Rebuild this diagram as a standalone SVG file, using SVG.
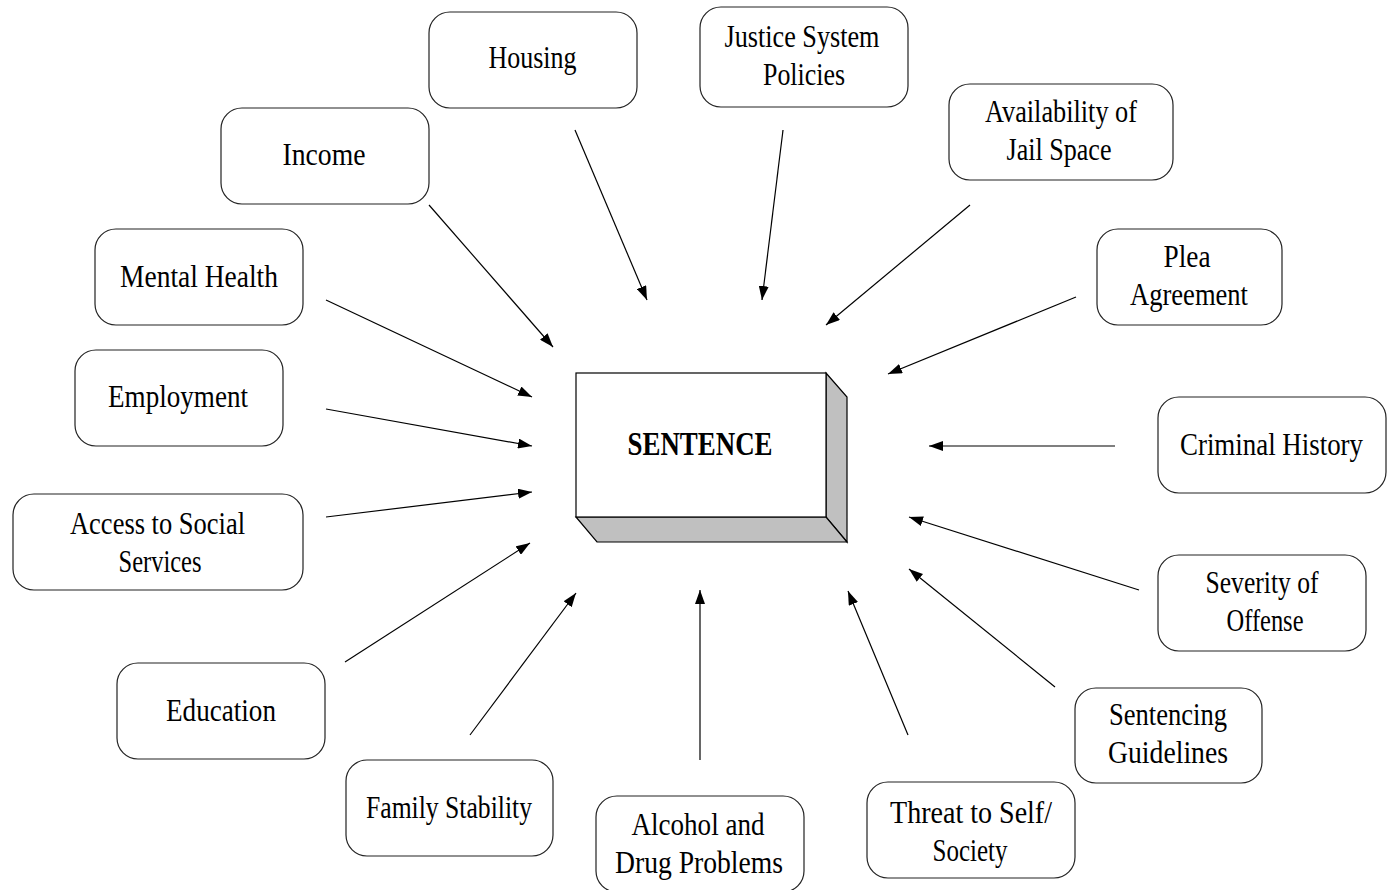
<svg xmlns="http://www.w3.org/2000/svg" width="1392" height="890" viewBox="0 0 1392 890">
<style>
.box{fill:#fff;stroke:#222;stroke-width:1.2}
.t{font-family:"Liberation Serif","Times New Roman",serif;font-size:32px;fill:#000;text-anchor:middle}
.b{font-weight:bold;font-size:33px}
.c{stroke:#000;stroke-width:1.2;fill:none;marker-end:url(#ah)}
</style>
<defs>
<marker id="ah" viewBox="0 0 14 10" refX="14" refY="5" markerWidth="14" markerHeight="10" markerUnits="userSpaceOnUse" orient="auto">
<path d="M0,0 L14,5 L0,10 Z" fill="#000"/>
</marker>
</defs>
<rect width="1392" height="890" fill="#fff"/>
<g id="connectors">
<line class="c" x1="575" y1="130" x2="647" y2="300"/>
<line class="c" x1="783" y1="130" x2="762" y2="300"/>
<line class="c" x1="970" y1="205" x2="826" y2="325"/>
<line class="c" x1="1076" y1="297" x2="888" y2="374"/>
<line class="c" x1="1115" y1="446" x2="929" y2="446"/>
<line class="c" x1="1139" y1="590" x2="909" y2="517"/>
<line class="c" x1="1055" y1="687" x2="909" y2="569"/>
<line class="c" x1="908" y1="735" x2="848" y2="591"/>
<line class="c" x1="700" y1="760" x2="700" y2="590"/>
<line class="c" x1="470" y1="735" x2="576" y2="593"/>
<line class="c" x1="345" y1="662" x2="530" y2="543"/>
<line class="c" x1="326" y1="517" x2="532" y2="492"/>
<line class="c" x1="326" y1="409" x2="532" y2="446"/>
<line class="c" x1="326" y1="300" x2="532" y2="397"/>
<line class="c" x1="429" y1="205" x2="553" y2="347"/>
</g>
<g id="sentence">
<polygon points="826,373 847,397 847,542 826,517" fill="#c0c0c0" stroke="#000" stroke-width="1.2"/>
<polygon points="576,517 826,517 847,542 597,542" fill="#c0c0c0" stroke="#000" stroke-width="1.2"/>
<rect x="576" y="373" width="250" height="144" fill="#fff" stroke="#000" stroke-width="1.2"/>
<text class="t b" x="700" y="455" textLength="145" lengthAdjust="spacingAndGlyphs">SENTENCE</text>
</g>
<g id="housing"><rect class="box" x="429" y="12" width="208" height="96" rx="21"/><text class="t" x="532.5" y="68" textLength="88" lengthAdjust="spacingAndGlyphs">Housing</text></g>
<g id="justice"><rect class="box" x="700" y="7" width="208" height="100" rx="21"/><text class="t" x="802" y="47" textLength="155" lengthAdjust="spacingAndGlyphs">Justice System</text><text class="t" x="804" y="85" textLength="82" lengthAdjust="spacingAndGlyphs">Policies</text></g>
<g id="availability"><rect class="box" x="949" y="84" width="224" height="96" rx="21"/><text class="t" x="1061" y="122" textLength="152" lengthAdjust="spacingAndGlyphs">Availability of</text><text class="t" x="1059" y="160" textLength="105" lengthAdjust="spacingAndGlyphs">Jail Space</text></g>
<g id="income"><rect class="box" x="221" y="108" width="208" height="96" rx="21"/><text class="t" x="324" y="165" textLength="83" lengthAdjust="spacingAndGlyphs">Income</text></g>
<g id="plea"><rect class="box" x="1097" y="229" width="185" height="96" rx="21"/><text class="t" x="1187" y="267" textLength="47" lengthAdjust="spacingAndGlyphs">Plea</text><text class="t" x="1189" y="305" textLength="118" lengthAdjust="spacingAndGlyphs">Agreement</text></g>
<g id="mental"><rect class="box" x="95" y="229" width="208" height="96" rx="21"/><text class="t" x="199" y="287" textLength="158" lengthAdjust="spacingAndGlyphs">Mental Health</text></g>
<g id="criminal"><rect class="box" x="1158" y="397" width="228" height="96" rx="21"/><text class="t" x="1271.5" y="455" textLength="183" lengthAdjust="spacingAndGlyphs">Criminal History</text></g>
<g id="employment"><rect class="box" x="75" y="350" width="208" height="96" rx="21"/><text class="t" x="178" y="407" textLength="140" lengthAdjust="spacingAndGlyphs">Employment</text></g>
<g id="access"><rect class="box" x="13" y="494" width="290" height="96" rx="21"/><text class="t" x="157.5" y="534" textLength="175" lengthAdjust="spacingAndGlyphs">Access to Social</text><text class="t" x="160" y="572" textLength="83" lengthAdjust="spacingAndGlyphs">Services</text></g>
<g id="severity"><rect class="box" x="1158" y="555" width="208" height="96" rx="21"/><text class="t" x="1262" y="593" textLength="113" lengthAdjust="spacingAndGlyphs">Severity of</text><text class="t" x="1265" y="631" textLength="77" lengthAdjust="spacingAndGlyphs">Offense</text></g>
<g id="guidelines"><rect class="box" x="1075" y="688" width="187" height="95" rx="21"/><text class="t" x="1168" y="725" textLength="118" lengthAdjust="spacingAndGlyphs">Sentencing</text><text class="t" x="1168" y="763" textLength="120" lengthAdjust="spacingAndGlyphs">Guidelines</text></g>
<g id="education"><rect class="box" x="117" y="663" width="208" height="96" rx="21"/><text class="t" x="221" y="721" textLength="110" lengthAdjust="spacingAndGlyphs">Education</text></g>
<g id="family"><rect class="box" x="346" y="760" width="207" height="96" rx="21"/><text class="t" x="449" y="818" textLength="166" lengthAdjust="spacingAndGlyphs">Family Stability</text></g>
<g id="alcohol"><rect class="box" x="596" y="796" width="208" height="96" rx="21"/><text class="t" x="698" y="835" textLength="133" lengthAdjust="spacingAndGlyphs">Alcohol and</text><text class="t" x="699" y="873" textLength="168" lengthAdjust="spacingAndGlyphs">Drug Problems</text></g>
<g id="threat"><rect class="box" x="867" y="782" width="208" height="96" rx="21"/><text class="t" x="971" y="823" textLength="162" lengthAdjust="spacingAndGlyphs">Threat to Self/</text><text class="t" x="970" y="861" textLength="75" lengthAdjust="spacingAndGlyphs">Society</text></g>
</svg>
